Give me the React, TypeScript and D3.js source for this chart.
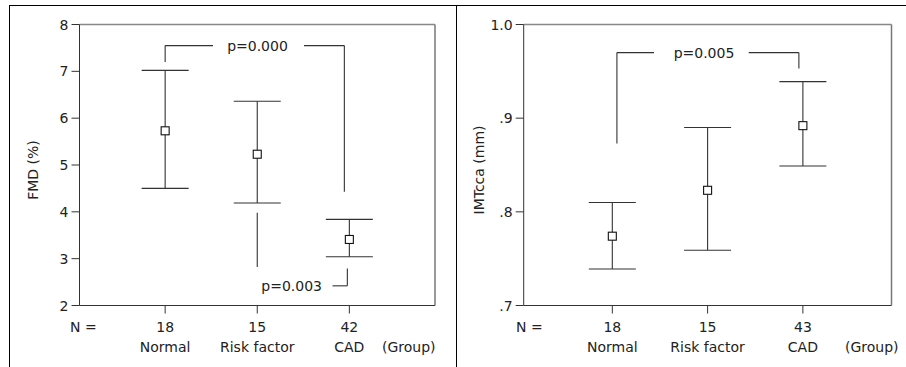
import React from "react";
import * as d3 from "d3";

const groups = ["Normal", "Risk factor", "CAD"];
const fmdN = ["18", "15", "42"];
const fmdMean = [5.73, 5.23, 3.41];
const fmdLow = [4.5, 4.19, 3.04];
const fmdHigh = [7.02, 6.36, 3.84];
const fmdTicks = [2, 3, 4, 5, 6, 7, 8];

const imtN = ["18", "15", "43"];
const imtMean = [0.774, 0.823, 0.892];
const imtLow = [0.739, 0.759, 0.849];
const imtHigh = [0.81, 0.89, 0.939];
const imtTicks = [0.7, 0.8, 0.9, 1.0];
const imtTickLabels = [".7", ".8", ".9", "1.0"];

const FONT = "DejaVu Sans, Verdana, sans-serif";
const FS = 14;
const INK = "#333";

type Seg = { x1: number; x2: number; y1: number; y2: number };

function Panel(props: {
  x0: number; x1: number; y0: number; y1: number;
  domain: [number, number]; ticks: number[]; tickLabels: string[];
  ns: string[]; mean: number[]; low: number[]; high: number[];
  yLabel: string; yLabelX: number; nX: number; groupX: number;
  brackets: (x: (i: number) => number, y: (v: number) => number) => Seg[];
  pTexts: { text: string; x: number; yv: number; anchor: string }[];
}) {
  const { x0, x1, y0, y1 } = props;
  const xs = d3.scalePoint<string>().domain(groups).range([x0, x1]).padding(0.93);
  const y = d3.scaleLinear().domain(props.domain).range([y1, y0]);
  const xi = (i: number) => xs(groups[i]) as number;
  const cap = 23.5;
  const sq = 8;
  const segs = props.brackets(xi, y);
  return (
    <g fontFamily={FONT} fontSize={FS} fill="#222">
      {/* frame */}
      <line x1={x0} x2={x1} y1={y0} y2={y0} stroke="#888" strokeWidth={1.5} />
      <line x1={x1} x2={x1} y1={y0} y2={y1} stroke="#777" strokeWidth={1.5} />
      <line x1={x0} x2={x0} y1={y0} y2={y1} stroke={INK} />
      <line x1={x0} x2={x1} y1={y1} y2={y1} stroke={INK} />
      {props.ticks.map((t, i) => (
        <g key={"yt" + i}>
          <line x1={x0 - 8} x2={x0} y1={y(t)} y2={y(t)} stroke={INK} />
          <text x={x0 - 11} y={y(t) + 5} textAnchor="end">{props.tickLabels[i]}</text>
        </g>
      ))}
      {groups.map((g, i) => (
        <g key={"xt" + i}>
          <line x1={xi(i)} x2={xi(i)} y1={y1} y2={y1 + 8} stroke={INK} />
          <text x={xi(i)} y={332} textAnchor="middle">{props.ns[i]}</text>
          <text x={xi(i)} y={352} textAnchor="middle">{g}</text>
        </g>
      ))}
      <text x={props.nX} y={332}>N =</text>
      <text x={props.groupX} y={352}>(Group)</text>
      <text
        transform={`translate(${props.yLabelX},${(y0 + y1) / 2 + 5}) rotate(-90)`}
        textAnchor="middle"
      >
        {props.yLabel}
      </text>
      {groups.map((g, i) => (
        <g key={"eb" + i} stroke={INK} strokeWidth={1.1}>
          <line x1={xi(i)} x2={xi(i)} y1={y(props.high[i])} y2={y(props.low[i])} />
          <line x1={xi(i) - cap} x2={xi(i) + cap} y1={y(props.high[i])} y2={y(props.high[i])} />
          <line x1={xi(i) - cap} x2={xi(i) + cap} y1={y(props.low[i])} y2={y(props.low[i])} />
          <rect
            x={xi(i) - sq / 2}
            y={y(props.mean[i]) - sq / 2}
            width={sq}
            height={sq}
            fill="#fff"
            stroke="#111"
          />
        </g>
      ))}
      {segs.map((s, i) => (
        <line key={"br" + i} x1={s.x1} x2={s.x2} y1={s.y1} y2={s.y2} stroke={INK} strokeWidth={1.1} />
      ))}
      {props.pTexts.map((p, i) => (
        <text key={"p" + i} x={p.x} y={y(p.yv) + 5} textAnchor={p.anchor as any}>{p.text}</text>
      ))}
    </g>
  );
}

export default function App() {
  return (
    <svg width={906} height={367} style={{ display: "block", position: "absolute", left: 0, top: 0 }}>
      <rect width={906} height={367} fill="#fff" />
      <line x1={9} x2={906} y1={5.5} y2={5.5} stroke="#000" />
      <line x1={9.5} x2={9.5} y1={5} y2={367} stroke="#000" />
      <line x1={456.5} x2={456.5} y1={5} y2={367} stroke="#000" />
      <Panel
        x0={79.5} x1={435} y0={24.5} y1={305.5}
        domain={[2, 8]} ticks={fmdTicks} tickLabels={fmdTicks.map(String)}
        ns={fmdN} mean={fmdMean} low={fmdLow} high={fmdHigh}
        yLabel="FMD (%)" yLabelX={38} nX={70} groupX={382}
        brackets={(x, y) => [
          { x1: x(0), x2: x(0), y1: y(7.55), y2: y(7.2) },
          { x1: x(0), x2: 213, y1: y(7.55), y2: y(7.55) },
          { x1: 304, x2: x(2) - 5, y1: y(7.55), y2: y(7.55) },
          { x1: x(2) - 5, x2: x(2) - 5, y1: y(7.55), y2: y(4.43) },
          { x1: x(1), x2: x(1), y1: y(3.98), y2: y(2.82) },
          { x1: x(2) - 2, x2: x(2) - 2, y1: y(2.79), y2: y(2.42) },
          { x1: 332.5, x2: x(2) - 2, y1: y(2.42), y2: y(2.42) },
        ]}
        pTexts={[
          { text: "p=0.000", x: 257.5, yv: 7.55, anchor: "middle" },
          { text: "p=0.003", x: 322, yv: 2.42, anchor: "end" },
        ]}
      />
      <Panel
        x0={523.7} x1={891.5} y0={24.5} y1={305.5}
        domain={[0.7, 1.0]} ticks={imtTicks} tickLabels={imtTickLabels}
        ns={imtN} mean={imtMean} low={imtLow} high={imtHigh}
        yLabel="IMTcca (mm)" yLabelX={484} nX={516} groupX={845}
        brackets={(x, y) => [
          { x1: x(0) + 4.6, x2: x(0) + 4.6, y1: y(0.97), y2: y(0.873) },
          { x1: x(0) + 4.6, x2: 654, y1: y(0.97), y2: y(0.97) },
          { x1: 748.7, x2: x(2) - 4, y1: y(0.97), y2: y(0.97) },
          { x1: x(2) - 4, x2: x(2) - 4, y1: y(0.97), y2: y(0.953) },
        ]}
        pTexts={[{ text: "p=0.005", x: 704, yv: 0.97, anchor: "middle" }]}
      />
    </svg>
  );
}
